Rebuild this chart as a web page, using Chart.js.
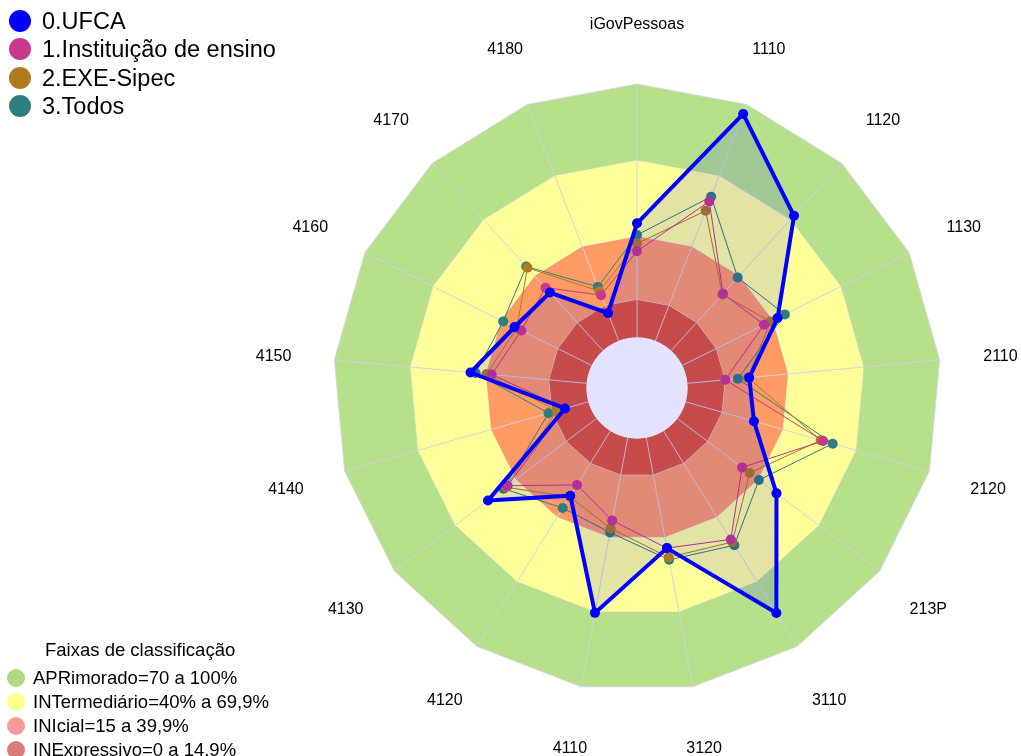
<!DOCTYPE html>
<html lang="pt">
<head>
<meta charset="utf-8">
<title>iGovPessoas</title>
<script src="https://cdn.jsdelivr.net/npm/chart.js@4.4.1/dist/chart.umd.min.js"></script>
<style>
  html, body { margin: 0; padding: 0; background: #fff; }
  body {
    width: 1021px; height: 756px; position: relative; overflow: hidden;
    font-family: 'Liberation Sans', Arial, sans-serif; color: #000;
  }
  #radar { position: absolute; left: 0; top: 0; }
  .legend { position: absolute; left: 0; margin: 0; padding: 0; list-style: none; }
  .legend li { position: relative; white-space: nowrap; }
  .legend .dot { position: absolute; border-radius: 50%; }

  #series-legend { top: 7px; font-size: 23.5px; }
  #series-legend li { height: 28.4px; line-height: 28.4px; padding-left: 42px; }
  #series-legend .dot { left: 9px; top: 3px; width: 22px; height: 22px; }

  #band-title { position: absolute; left: 45px; top: 639px; font-size: 18.5px; line-height: 22px; white-space: nowrap; }
  #band-legend { top: 666px; font-size: 18.5px; }
  #band-legend li { height: 24px; line-height: 24px; padding-left: 33px; }
  #band-legend .dot { left: 7px; top: 3px; width: 18px; height: 18px; }
</style>
</head>
<body>
<canvas id="radar" width="1021" height="756"></canvas>

<ul id="series-legend" class="legend"></ul>
<div id="band-title">Faixas de classificação</div>
<ul id="band-legend" class="legend"></ul>

<script>
'use strict';

// ── Data ──────────────────────────────────────
const LABELS = ['iGovPessoas', '1110', '1120', '1130', '2110', '2120', '213P', '3110', '3120',
                '4110', '4120', '4130', '4140', '4150', '4160', '4170', '4180'];

const UFCA        = [45, 96, 72, 42, 24.5, 28, 49, 84.5, 44.3, 70.3, 30, 53.7, 9.5, 46, 34, 31, 11.7];
const INSTITUICAO = [34, 59, 30.4, 36, 15, 56.4, 32, 50.3, 44.3, 33.2, 25, 44, 9.5, 37.6, 31, 33.6, 19.3];
const EXE_SIPEC   = [37, 55, 30, 38.8, 24, 55.4, 35.7, 51.5, 48, 36.4, 30.5, 45, 12.8, 39.6, 33, 44.2, 21];
const TODOS       = [40.4, 61, 39, 45.2, 20, 60.3, 40.3, 53, 49, 38, 35.7, 46, 16.3, 44, 39, 44.9, 22.8];

const SERIES_NAMES = ['0.UFCA', '1.Instituição de ensino', '2.EXE-Sipec', '3.Todos'];
const SERIES_COLORS = ['#0000ff', '#c8378c', '#b07b1f', '#2f7e7e'];

// band upper limits (%) and their names
const BAND_LIMITS = [100, 70, 40, 15];
const BAND_NAMES = ['APRimorado=70 a 100%', 'INTermediário=40% a 69,9%', 'INIcial=15 a 39,9%', 'INExpressivo=0 a 14,9%'];
const BAND_COLORS = ['#b7e08b', '#ffff99', '#fe9b64', '#e15536'];
const BAND_LEGEND_COLORS = ['#afda82', '#ffff8c', '#ff9999', '#d77d7d'];

const SCALE_MIN = -20;
const SCALE_MAX = 100;
const LABEL_GAP = 61;      // label centre distance beyond the outer polygon
const LABEL_DY = 2;        // nudge: canvas 'middle' sits a bit above the digit centre

Chart.defaults.font.family = "'Liberation Sans', Arial, sans-serif";
Chart.defaults.color = '#000';

// ── Datasets ──────────────────────────────────
const seriesData = [UFCA, INSTITUICAO, EXE_SIPEC, TODOS];

const seriesDatasets = seriesData.map((data, i) => ({
  label: SERIES_NAMES[i],
  data,
  borderColor: SERIES_COLORS[i],
  backgroundColor: i === 0 ? 'rgba(0,0,255,0.11)' : 'transparent',
  fill: i === 0 ? 'start' : false,
  borderWidth: i === 0 ? 4 : 1,
  pointRadius: 5,
  pointBorderWidth: 0,
  pointBackgroundColor: SERIES_COLORS[i],
  pointBorderColor: SERIES_COLORS[i],
  tension: 0,
}));

const bandDatasets = BAND_LIMITS.map((limit, i) => ({
  label: BAND_NAMES[i],
  data: LABELS.map(() => limit),
  backgroundColor: BAND_COLORS[i],
  borderColor: 'rgba(215,215,232,0.9)',
  borderWidth: 1,
  pointRadius: 0,
  pointHitRadius: 0,
  fill: i < BAND_LIMITS.length - 1 ? '+1' : { value: 0 },
}));

const FIRST_BAND_INDEX = seriesDatasets.length;   // outermost band, drawn last of the bands

// angle lines drawn above the bands, below the series
const angleLinesPlugin = {
  id: 'angleLinesOverBands',
  afterDatasetDraw(chart, args) {
    if (args.index !== FIRST_BAND_INDEX) return;
    const scale = chart.scales.r;
    const ctx = chart.ctx;
    ctx.save();
    ctx.strokeStyle = 'rgba(210,210,228,0.95)';
    ctx.lineWidth = 1;
    for (let i = 0; i < LABELS.length; i++) {
      const a = scale.getPointPositionForValue(i, 0);
      const b = scale.getPointPositionForValue(i, SCALE_MAX);
      ctx.beginPath();
      ctx.moveTo(a.x, a.y);
      ctx.lineTo(b.x, b.y);
      ctx.stroke();
    }
    ctx.restore();
  },
};

// axis names centred on their spoke, outside the polygon
const pointLabelPlugin = {
  id: 'centredPointLabels',
  afterDraw(chart) {
    const scale = chart.scales.r;
    const ctx = chart.ctx;
    const dist = scale.drawingArea + LABEL_GAP;
    ctx.save();
    ctx.font = "16px 'Liberation Sans', Arial, sans-serif";
    ctx.fillStyle = '#000';
    ctx.textAlign = 'center';
    ctx.textBaseline = 'middle';
    LABELS.forEach((label, i) => {
      const p = scale.getPointPosition(i, dist);
      ctx.fillText(label, p.x, p.y + LABEL_DY);
    });
    ctx.restore();
  },
};

new Chart(document.getElementById('radar').getContext('2d'), {
  type: 'radar',
  data: {
    labels: LABELS,
    datasets: [...seriesDatasets, ...bandDatasets],
  },
  options: {
    responsive: false,
    animation: false,
    devicePixelRatio: 1,
    layout: { padding: { left: 333, top: 84, right: 80, bottom: 64 } },
    plugins: {
      legend: { display: false },
      tooltip: { enabled: false },
    },
    scales: {
      r: {
        min: SCALE_MIN,
        max: SCALE_MAX,
        ticks: { display: false },
        grid: { display: false, circular: true },
        angleLines: { display: false },
        pointLabels: { display: false },
      },
    },
  },
  plugins: [angleLinesPlugin, pointLabelPlugin],
});

// ── HTML legends ──────────────────────────────
const seriesLegend = document.getElementById('series-legend');
SERIES_NAMES.forEach((name, i) => {
  const li = document.createElement('li');
  li.innerHTML = `<span class="dot" style="background:${SERIES_COLORS[i]}"></span>${name}`;
  seriesLegend.appendChild(li);
});

const bandLegend = document.getElementById('band-legend');
BAND_NAMES.forEach((name, i) => {
  const li = document.createElement('li');
  li.innerHTML = `<span class="dot" style="background:${BAND_LEGEND_COLORS[i]}"></span>${name}`;
  bandLegend.appendChild(li);
});
</script>
</body>
</html>
